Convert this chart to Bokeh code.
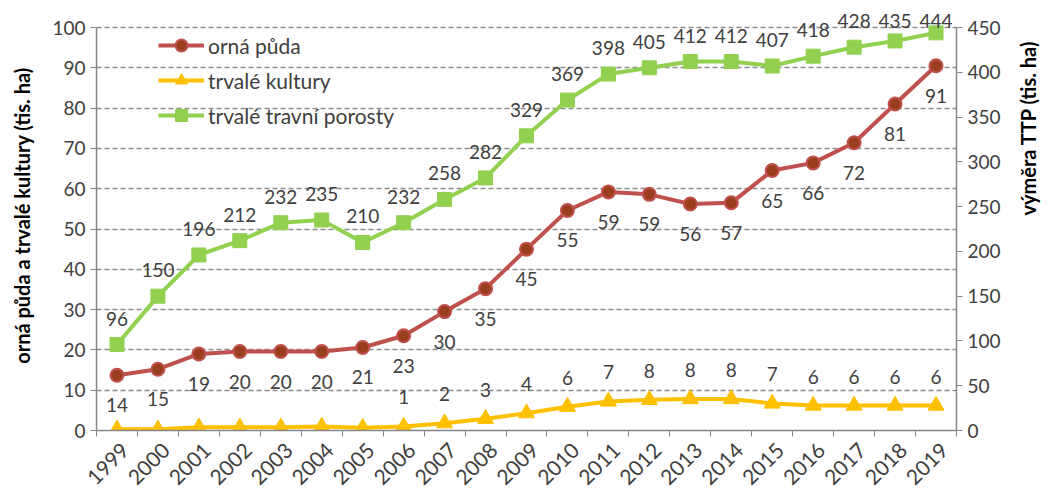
import math
from bokeh.plotting import figure
from bokeh.models import Range1d, LinearAxis, FixedTicker, ColumnDataSource, CustomJSTickFormatter
from bokeh.embed import file_html
from bokeh.resources import INLINE
from bokeh.core.properties import value

years = list(range(1999, 2020))
orna = [13.7, 15.2, 19.0, 19.6, 19.6, 19.6, 20.6, 23.5, 29.5, 35.2, 45.0, 54.6, 59.2, 58.6, 56.2, 56.5, 64.5, 66.4, 71.4, 81.0, 90.5]
orna_lbl = ["14", "15", "19", "20", "20", "20", "21", "23", "30", "35", "45", "55", "59", "59", "56", "57", "65", "66", "72", "81", "91"]
kultury = [0.3, 0.3, 0.8, 0.8, 0.8, 1.0, 0.7, 1.0, 1.8, 2.9, 4.3, 5.9, 7.2, 7.6, 7.8, 7.8, 6.7, 6.2, 6.2, 6.2, 6.2]
kultury_lbl = ["", "", "", "", "", "", "", "1", "2", "3", "4", "6", "7", "8", "8", "8", "7", "6", "6", "6", "6"]
ttp = [96, 150, 196, 212, 232, 235, 210, 232, 258, 282, 329, 369, 398, 405, 412, 412, 407, 418, 428, 435, 444]
ttp_lbl = [str(v) for v in ttp]

FONT = "Lato"
TXT = "#404040"
AXC = "#868686"

FH = 430          # frame height; axis bounds 0..100 occupy the lower 403 px
PXU = 403 / 100.0
YTOP = FH / PXU
p = figure(frame_width=860, frame_height=FH, output_backend="svg", toolbar_location=None,
           x_range=Range1d(1998.5, 2019.5), y_range=Range1d(0, YTOP),
           min_border_left=96, min_border_right=94, min_border_top=0, min_border_bottom=58)
p.extra_y_ranges = {"ttp": Range1d(0, YTOP * 4.5)}
p.outline_line_color = None
p.background_fill_color = "white"

# grid
p.xgrid.grid_line_color = None
p.ygrid.ticker = FixedTicker(ticks=list(range(10, 101, 10)))
p.ygrid.grid_line_color = "#8c8c8c"
p.ygrid.grid_line_width = 1.5
p.ygrid.grid_line_dash = "5 3"

# x axis (labels nudged slightly right of category centre, Excel-like)
SH = 0.2
xa = p.xaxis[0]
xa.ticker = FixedTicker(ticks=[y + SH for y in years], minor_ticks=[y - 0.5 for y in years] + [years[-1] + 0.5])
xa.formatter = CustomJSTickFormatter(code="return String(Math.round(tick));")
xa.major_tick_out = 0
xa.major_tick_in = 0
xa.minor_tick_out = 6
xa.minor_tick_in = 0
xa.minor_tick_line_color = AXC
xa.axis_line_color = AXC
xa.axis_line_width = 1.5
xa.major_label_orientation = math.pi / 4
xa.major_label_text_font = FONT
xa.major_label_text_font_size = "21px"
xa.major_label_text_color = TXT
xa.major_label_standoff = 10

# left axis
ya = p.yaxis[0]
ya.ticker = FixedTicker(ticks=list(range(0, 101, 10)))
ya.bounds = (0, 100)
ya.axis_line_color = AXC
ya.axis_line_width = 1.5
ya.major_tick_line_color = AXC
ya.major_tick_out = 6
ya.major_tick_in = 0
ya.minor_tick_line_color = None
ya.major_label_text_font = FONT
ya.major_label_text_font_size = "19px"
ya.major_label_text_color = TXT
ya.axis_label = "orná půda a trvalé kultury (tis. ha)"
ya.axis_label_text_font = FONT
ya.axis_label_text_font_style = "bold"
ya.axis_label_text_font_size = "20px"
ya.axis_label_text_color = "black"
ya.axis_label_standoff = 15

# right axis
ra = LinearAxis(y_range_name="ttp", ticker=FixedTicker(ticks=list(range(0, 451, 50))), bounds=(0, 450))
ra.axis_line_color = AXC
ra.axis_line_width = 1.5
ra.major_tick_line_color = AXC
ra.major_tick_out = 6
ra.major_tick_in = 0
ra.minor_tick_line_color = None
ra.major_label_text_font = FONT
ra.major_label_text_font_size = "19px"
ra.major_label_text_color = TXT
ra.axis_label = "výměra TTP (tis. ha)"
ra.axis_label_text_font = FONT
ra.axis_label_text_font_style = "bold"
ra.axis_label_text_font_size = "20px"
ra.axis_label_text_color = "black"
ra.axis_label_standoff = 24
try:
    ra.axis_label_orientation = math.pi / 2
except Exception:
    pass
p.add_layout(ra, "right")

# TTP labels: pushed down near the top edge so they stay inside the chart
ttp_off = [max(-26.0, 20.0 - (430.0 - v * 403.0 / 450.0)) for v in ttp]

src = ColumnDataSource(dict(x=years, orna=orna, orna_lbl=orna_lbl, kultury=kultury,
                            kultury_lbl=kultury_lbl, ttp=ttp, ttp_lbl=ttp_lbl, ttp_off=ttp_off))

# series
p.line("x", "ttp", source=src, y_range_name="ttp", line_color="#92D050", line_width=4, legend_label="trvalé travní porosty")
p.scatter("x", "ttp", source=src, y_range_name="ttp", marker="square", size=14, fill_color="#92D050", line_color="#92D050", legend_label="trvalé travní porosty")

p.line("x", "kultury", source=src, line_color="#FFC000", line_width=4, legend_label="trvalé kultury")
p.scatter("x", "kultury", source=src, marker="triangle", size=16, fill_color="#FFC000", line_color="#FFC000", legend_label="trvalé kultury")

p.line("x", "orna", source=src, line_color="#C0504D", line_width=4, legend_label="orná půda")
p.scatter("x", "orna", source=src, marker="circle", size=13, fill_color="#9A3F1E", line_color="#C0504D", line_width=2, legend_label="orná půda")

# data labels
common = dict(text_font=value(FONT), text_font_size="19px", text_color=TXT, text_align="center", text_baseline="middle")
p.text("x", "ttp", text="ttp_lbl", source=src, y_range_name="ttp", y_offset="ttp_off", **common)
p.text("x", "orna", text="orna_lbl", source=src, y_offset=30, **common)
p.text("x", "kultury", text="kultury_lbl", source=src, y_offset=-29, **common)

# legend
lg = p.legend[0]
items = lg.items
lg.items = [items[2], items[1], items[0]]
lg.location = (62, 300)
lg.border_line_color = None
lg.background_fill_alpha = 0
lg.label_text_font = FONT
lg.label_text_font_size = "21px"
lg.label_text_color = TXT
lg.glyph_width = 46
lg.glyph_height = 30
lg.label_height = 30
lg.spacing = 5
lg.padding = 0
lg.label_standoff = 4

open("out.html", "w").write(file_html(p, INLINE))
